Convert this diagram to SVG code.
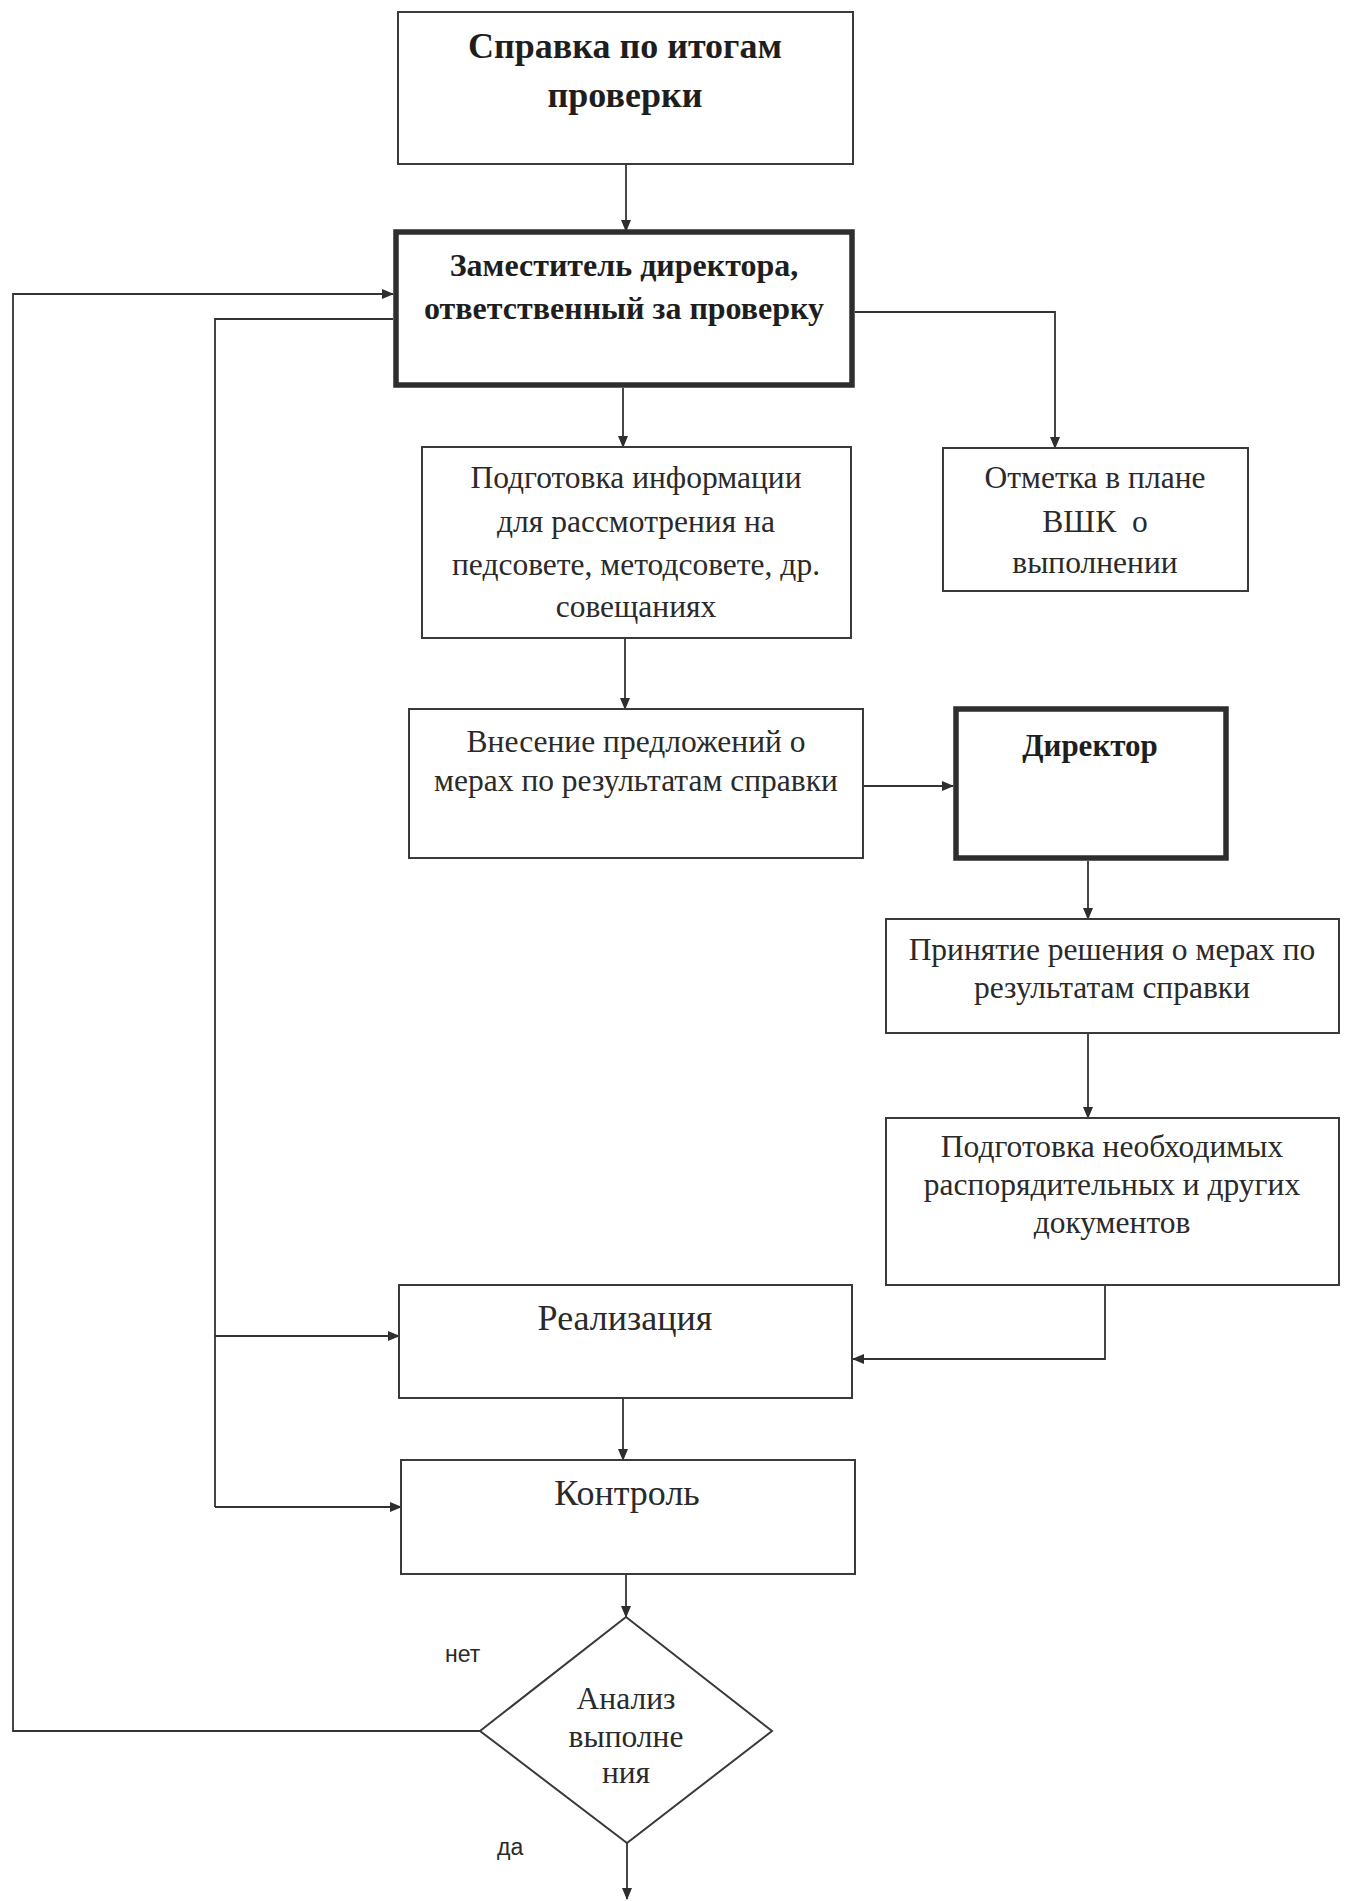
<svg xmlns="http://www.w3.org/2000/svg" width="1347" height="1901" viewBox="0 0 1347 1901">
<defs>
<marker id="arr" viewBox="0 0 12 10" refX="11" refY="5" markerWidth="12" markerHeight="10" markerUnits="userSpaceOnUse" orient="auto">
<path d="M0,0 L12,5 L0,10 Z" fill="#2e2e2e"/>
</marker>
<style>
.box{fill:none;stroke:#3a3a3a;stroke-width:2}
.thick{fill:none;stroke:#2e2e2e;stroke-width:5.5}
.t{font-family:"Liberation Serif","Times New Roman",serif;font-size:31.5px;fill:#2a2a2a;text-anchor:middle}
.b{font-family:"Liberation Serif","Times New Roman",serif;font-weight:bold;fill:#1e1e1e;text-anchor:middle}
.big{font-size:36px}
.lab{font-family:"Liberation Sans",Arial,sans-serif;font-size:23px;fill:#2a2a2a}
.c{fill:none;stroke:#333;stroke-width:1.8}
.ca{fill:none;stroke:#333;stroke-width:1.8;marker-end:url(#arr)}
</style>
</defs>
<rect width="1347" height="1901" fill="#ffffff"/>

<g id="connectors">
<path class="ca" d="M626,164 V231"/>
<path class="ca" d="M623,388 V447"/>
<path class="ca" d="M855,312 H1055 V448"/>
<path class="ca" d="M625,638 V709"/>
<path class="ca" d="M863,786 H953"/>
<path class="ca" d="M1088,861 V919"/>
<path class="ca" d="M1088,1033 V1118"/>
<path class="ca" d="M1105,1285 V1359 H853"/>
<path class="ca" d="M623,1398 V1460"/>
<path class="ca" d="M626,1574 V1617"/>
<path class="ca" d="M627,1843 V1899"/>
<path class="ca" d="M480,1731 H13 V294 H393"/>
<path class="c" d="M393,319 H215 V1507"/>
<path class="ca" d="M215,1507 H401"/>
<path class="ca" d="M215,1336 H399"/>
</g>

<g id="n-spravka">
<rect class="box" x="398" y="12" width="455" height="152"/>
<text class="b" x="625" y="58" font-size="36">Справка по итогам</text>
<text class="b" x="625" y="107" font-size="36">проверки</text>
</g>

<g id="n-zam">
<rect class="thick" x="396" y="232" width="456" height="153"/>
<text class="b" x="624" y="276" font-size="32">Заместитель директора,</text>
<text class="b" x="624" y="319" font-size="32">ответственный за проверку</text>
</g>

<g id="n-podgotovka-info">
<rect class="box" x="422" y="447" width="429" height="191"/>
<text class="t" x="636" y="488">Подготовка информации</text>
<text class="t" x="636" y="532">для рассмотрения на</text>
<text class="t" x="636" y="575">педсовете, методсовете, др.</text>
<text class="t" x="636" y="617">совещаниях</text>
</g>

<g id="n-otmetka">
<rect class="box" x="943" y="448" width="305" height="143"/>
<text class="t" x="1095" y="488">Отметка в плане</text>
<text class="t" x="1095" y="532" xml:space="preserve">ВШК  о</text>
<text class="t" x="1095" y="573">выполнении</text>
</g>

<g id="n-vnesenie">
<rect class="box" x="409" y="709" width="454" height="149"/>
<text class="t" x="636" y="752">Внесение предложений о</text>
<text class="t" x="636" y="791">мерах по результатам справки</text>
</g>

<g id="n-direktor">
<rect class="thick" x="956" y="709" width="270" height="149"/>
<text class="b" x="1090" y="756" font-size="31">Директор</text>
</g>

<g id="n-prinyatie">
<rect class="box" x="886" y="919" width="453" height="114"/>
<text class="t" x="1112" y="960">Принятие решения о мерах по</text>
<text class="t" x="1112" y="998">результатам справки</text>
</g>

<g id="n-podgotovka-doc">
<rect class="box" x="886" y="1118" width="453" height="167"/>
<text class="t" x="1112" y="1157">Подготовка необходимых</text>
<text class="t" x="1112" y="1195">распорядительных и других</text>
<text class="t" x="1112" y="1233">документов</text>
</g>

<g id="n-realizaciya">
<rect class="box" x="399" y="1285" width="453" height="113"/>
<text class="t big" x="625" y="1330">Реализация</text>
</g>

<g id="n-kontrol">
<rect class="box" x="401" y="1460" width="454" height="114"/>
<text class="t big" x="627" y="1505">Контроль</text>
</g>

<g id="n-analiz">
<polygon class="box" points="626,1617 772,1731 627,1843 480,1731"/>
<text class="t" x="626" y="1709" font-size="30">Анализ</text>
<text class="t" x="626" y="1747" font-size="30">выполне</text>
<text class="t" x="626" y="1783" font-size="30">ния</text>
</g>

<g id="labels">
<text class="lab" x="445" y="1662">нет</text>
<text class="lab" x="497" y="1855">да</text>
</g>
</svg>
